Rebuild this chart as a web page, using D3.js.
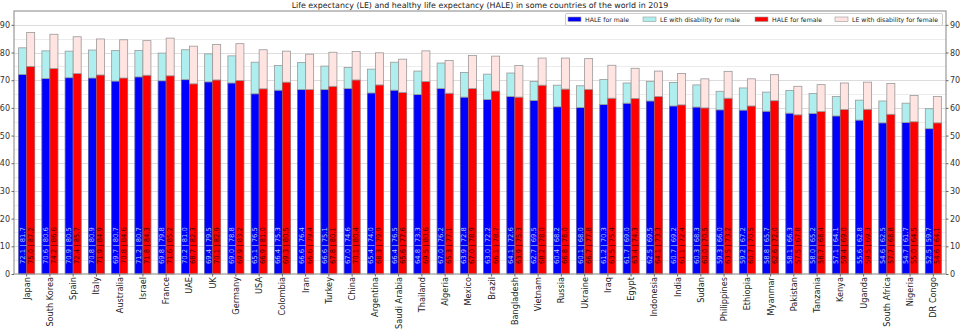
<!DOCTYPE html>
<html>
<head>
<meta charset="utf-8">
<script src="https://cdn.jsdelivr.net/npm/d3@7"></script>
<style>
body { margin: 0; background: #fff; }
svg text { font-family: "DejaVu Sans", sans-serif; }
</style>
</head>
<body>
<div id="chart"></div>
<script>
var countries = ["Japan", "South Korea", "Spain", "Italy", "Australia", "Israel", "France", "UAE", "UK", "Germany",
    "USA", "Colombia", "Iran", "Turkey", "China", "Argentina", "Saudi Arabia", "Thailand", "Algeria", "Mexico",
    "Brazil", "Bangladesh", "Vietnam", "Russia", "Ukraine", "Iraq", "Egypt", "Indonesia", "India", "Sudan",
    "Philippines", "Ethiopia", "Myanmar", "Pakistan", "Tanzania", "Kenya", "Uganda", "South Africa", "Nigeria", "DR Congo"];
var haleMale = [72.1, 70.6, 70.9, 70.8, 69.7, 71.2, 69.8, 70.2, 69.4, 69.0,
    65.1, 66.4, 66.6, 66.6, 67.0, 65.4, 66.4, 64.8, 67.0, 63.9,
    63.0, 64.1, 62.7, 60.4, 60.1, 61.2, 61.7, 62.5, 60.7, 60.3,
    59.3, 59.2, 58.8, 58.1, 58.0, 57.1, 55.6, 54.6, 54.7, 52.5];
var leMale = [81.7, 80.6, 80.5, 80.9, 80.7, 80.7, 79.8, 81.0, 79.5, 78.8,
    76.5, 75.3, 76.4, 75.1, 74.6, 74.0, 76.5, 73.3, 76.2, 72.8,
    72.2, 72.6, 69.5, 68.2, 68.0, 70.3, 69.0, 69.5, 69.2, 68.3,
    66.0, 67.2, 65.7, 66.3, 65.2, 64.1, 62.8, 62.5, 61.7, 59.7];
var haleFemale = [75.0, 74.2, 72.4, 71.9, 70.8, 71.8, 71.6, 68.7, 70.1, 69.9,
    66.9, 69.3, 66.6, 67.8, 70.1, 68.3, 65.6, 69.5, 65.3, 67.0,
    66.1, 63.9, 68.2, 66.8, 66.7, 63.5, 63.4, 64.1, 61.1, 60.0,
    63.5, 60.7, 62.6, 57.5, 58.7, 59.4, 59.5, 57.7, 55.0, 54.6];
var leFemale = [87.2, 86.6, 85.7, 84.9, 84.6, 84.3, 85.2, 82.3, 82.9, 83.2,
    81.0, 80.5, 79.4, 80.1, 80.4, 79.9, 77.6, 80.6, 77.1, 78.9,
    78.7, 75.3, 78.0, 78.0, 77.8, 75.4, 74.3, 73.3, 72.4, 70.5,
    73.2, 70.5, 72.0, 67.8, 68.4, 69.0, 69.3, 68.8, 64.5, 64.1];
var yTicks = [0, 10, 20, 30, 40, 50, 60, 70, 80, 90];
var legendLabels = ["HALE for male", "LE with disability for male", "HALE for female", "LE with disability for female"];

var w = 960, h = 331;
var mLeft = 14, mRight = 946, mTop = 11, mBottom = 274;

var svg = d3.select("#chart").append("svg")
    .attr("width", w)
    .attr("height", h);

var x = d3.scaleBand()
    .domain(countries)
    .range([mLeft, mRight])
    .paddingInner(0.31)
    .paddingOuter(0.2);
var y = d3.scaleLinear()
    .domain([0, 95])
    .range([mBottom, mTop]);
var bw = x.bandwidth() / 2;

// grid lines every 5
svg.append("g").selectAll("line")
    .data(d3.range(5, 95, 5))
    .enter().append("line")
    .attr("x1", mLeft).attr("x2", mRight)
    .attr("y1", function(d){ return Math.round(y(d)) + 0.5; })
    .attr("y2", function(d){ return Math.round(y(d)) + 0.5; })
    .attr("stroke", function(d){ return d % 10 == 0 ? "#dcdcdc" : "#ececec"; })
    .attr("stroke-width", 1);

var g = svg.append("g");
var idx = d3.range(countries.length);

function bars(x0, lo, hi, fill, stroke){
    g.selectAll(null)
        .data(idx)
        .enter().append("rect")
        .attr("x", function(i){ return x(countries[i]) + x0; })
        .attr("width", bw)
        .attr("y", function(i){ return y(hi[i]); })
        .attr("height", function(i){ return y(lo ? lo[i] : 0) - y(hi[i]); })
        .attr("fill", fill)
        .attr("stroke", stroke)
        .attr("stroke-width", 0.8);
}
bars(0, null, haleMale, "#0000ff", "#5555aa");
bars(0, haleMale, leMale, "#afeeee", "#999999");
bars(bw, null, haleFemale, "#ff0000", "#aa5555");
bars(bw, haleFemale, leFemale, "#ffe4e1", "#999999");

// value labels inside the bars
function labels(x0, a, b, color){
    g.selectAll(null)
        .data(idx)
        .enter().append("text")
        .attr("transform", function(i){
            return "translate(" + (x(countries[i]) + x0 + bw / 2) + "," + (mBottom - 10) + ") rotate(-90)";
        })
        .attr("dominant-baseline", "central")
        .attr("font-size", "6.8px")
        .attr("fill", color)
        .text(function(i){ return a[i].toFixed(1) + " | " + b[i].toFixed(1); });
}
labels(0, haleMale, leMale, "#b8c8ff");
labels(bw, haleFemale, leFemale, "#400000");

// frame
svg.append("rect")
    .attr("x", mLeft).attr("y", mTop)
    .attr("width", mRight - mLeft).attr("height", mBottom - mTop)
    .attr("fill", "none")
    .attr("stroke", "#999")
    .attr("stroke-width", 1.2);

var yl = d3.axisLeft(y).tickValues(yTicks).tickSize(2.5).tickPadding(1.5);
var yr = d3.axisRight(y).tickValues(yTicks).tickSize(2.5).tickPadding(1.5);
[[yl, mLeft], [yr, mRight]].forEach(function(p){
    var ax = svg.append("g")
        .attr("transform", "translate(" + p[1] + ",0)")
        .call(p[0]);
    ax.select(".domain").remove();
    ax.selectAll("line").attr("stroke", "#666");
    ax.selectAll("text").attr("font-size", "8px").attr("fill", "#333")
        .style("font-family", "DejaVu Sans, sans-serif");
});

// x labels
var xa = svg.append("g")
    .attr("transform", "translate(0," + mBottom + ")")
    .call(d3.axisBottom(x).tickSize(2.5).tickPadding(2));
xa.select(".domain").remove();
xa.selectAll("line").attr("stroke", "#666");
xa.selectAll("text")
    .attr("font-size", "8.2px")
    .attr("fill", "#222")
    .style("font-family", "DejaVu Sans, sans-serif")
    .attr("text-anchor", "end")
    .attr("dominant-baseline", "central")
    .attr("transform", "translate(0,3) rotate(-90)")
    .attr("x", 0).attr("y", 0).attr("dy", null);

// title
svg.append("text")
    .attr("x", (mLeft + mRight) / 2)
    .attr("y", 8)
    .attr("text-anchor", "middle")
    .attr("font-size", "7.9px")
    .attr("fill", "#222")
    .text("Life expectancy (LE) and healthy life expectancy (HALE) in some countries of the world in 2019");

// legend
var legColors = ["#0000ff", "#afeeee", "#ff0000", "#ffe4e1"];
var legX = [568, 643, 755, 835];
var leg = svg.append("g");
leg.append("rect")
    .attr("x", 565.5).attr("y", 13.5)
    .attr("width", 377).attr("height", 12)
    .attr("fill", "#fff").attr("stroke", "#ccc").attr("rx", 1.5);
leg.selectAll("rect.sw")
    .data(legendLabels)
    .enter().append("rect")
    .attr("class", "sw")
    .attr("x", function(d, i){ return legX[i]; })
    .attr("y", 17)
    .attr("width", 13).attr("height", 4.5)
    .attr("fill", function(d, i){ return legColors[i]; })
    .attr("stroke", "#999").attr("stroke-width", 0.6);
leg.selectAll("text")
    .data(legendLabels)
    .enter().append("text")
    .attr("x", function(d, i){ return legX[i] + 17; })
    .attr("y", 19.5)
    .attr("dominant-baseline", "central")
    .attr("font-size", "6.2px")
    .attr("fill", "#222")
    .text(function(d){ return d; });
</script>
</body>
</html>
